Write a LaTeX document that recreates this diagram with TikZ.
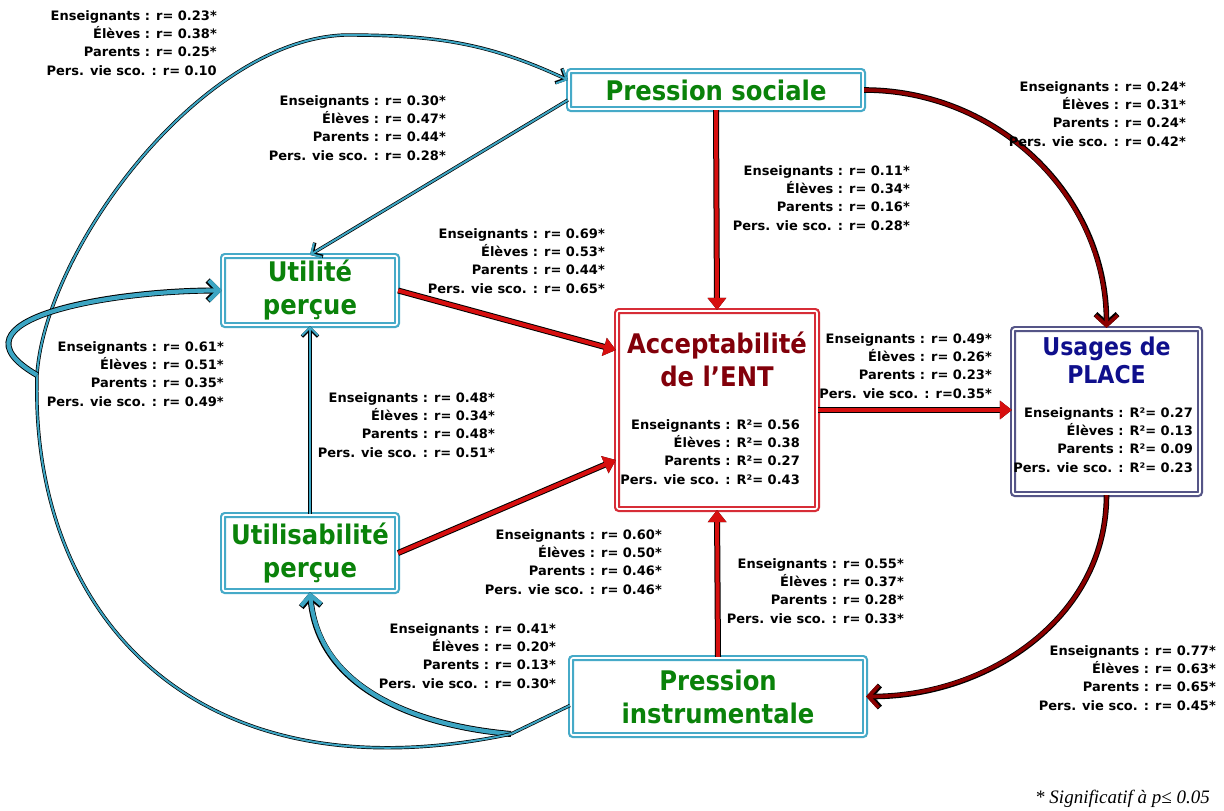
\documentclass[tikz,border=0pt]{standalone}
\usepackage{fontspec}
\setmainfont{DejaVu Sans}
\newfontfamily\titelfont{DejaVu Sans Condensed}
\newfontfamily\fussfont{Liberation Serif}
\usetikzlibrary{arrows.meta}

\begin{document}
\begin{tikzpicture}[x=1pt,y=-1pt]

    % Farben
    \definecolor{kastenblau}{RGB}{70,170,200}
    \definecolor{titelgruen}{RGB}{10,130,10}
    \definecolor{kastenrot}{RGB}{215,45,55}
    \definecolor{titelrot}{RGB}{130,0,10}
    \definecolor{kastenlila}{RGB}{85,85,135}
    \definecolor{titelblau}{RGB}{15,15,140}
    \definecolor{pfeilrot}{RGB}{215,15,15}
    \definecolor{bogenrot}{RGB}{140,0,0}
    \definecolor{pfeilblau}{RGB}{60,165,195}

    % Stile
    \tikzset{
        kasten/.style={double=white, double distance=1.6pt, line width=2.2pt,
            rounded corners=2pt, fill=white, inner sep=0pt, align=center},
        titel/.style={font=\titelfont\bfseries\fontsize{27}{33}\selectfont},
        lab/.style={font=\bfseries\fontsize{13}{18.4}\selectfont, align=right,
            inner sep=0pt, anchor=north east},
        rotpfeil/.style={draw=pfeilrot, line width=4pt,
            -{Triangle[length=12pt,width=18pt]},
            preaction={draw=black, line width=6pt, -{Triangle[length=12pt,width=18pt]}}},
        rotbogen/.style={draw=bogenrot, line width=3.6pt,
            -{Straight Barb[length=10pt,width=22pt]},
            preaction={draw=black, line width=5.6pt, -{Straight Barb[length=10pt,width=22pt]}}},
        blaupfeil/.style={draw=pfeilblau, line width=2pt,
            -{Straight Barb[length=8pt,width=16pt]},
            preaction={draw=black, line width=3.4pt, -{Straight Barb[length=8pt,width=16pt]}}},
        blaudick/.style={draw=pfeilblau, line width=4.2pt,
            -{Straight Barb[length=10pt,width=20pt]},
            preaction={draw=black, line width=6pt, -{Straight Barb[length=10pt,width=20pt]}}},
        blaulinie/.style={draw=pfeilblau, line width=2pt,
            preaction={draw=black, line width=3.4pt}}
    }

    % Rahmen
    \useasboundingbox (0,0) rectangle (1224,811);
    \fill[white] (0,0) rectangle (1224,811);

    % Kästen
    \node[kasten, draw=kastenblau, minimum width=294pt, minimum height=38pt,
        titel, text=titelgruen] (ps) at (716,90) {Pression sociale};
    \node[kasten, draw=kastenblau, minimum width=174pt, minimum height=69pt,
        titel, text=titelgruen] (util) at (310,290.5) {Utilité\\perçue};
    \node[kasten, draw=kastenblau, minimum width=174pt, minimum height=76pt,
        titel, text=titelgruen] (utis) at (310,553) {Utilisabilité\\perçue};
    \node[kasten, draw=kastenblau, minimum width=294pt, minimum height=77pt,
        titel, text=titelgruen] (pi) at (718,696.5) {Pression\\instrumentale};
    \node[kasten, draw=kastenrot, minimum width=200pt, minimum height=198pt]
        (acc) at (717,410) {};
    \node[kasten, draw=kastenlila, minimum width=187pt, minimum height=165pt]
        (us) at (1106.5,411.5) {};

    % Titel in den großen Kästen
    \node[titel, text=titelrot, align=center] (acc-titel) at (717,359)
        {Acceptabilité\\de l’ENT};
    \node[font=\titelfont\bfseries\fontsize{24.5}{28}\selectfont, text=titelblau, align=center]
        (us-titel) at (1106.5,360) {Usages de\\PLACE};
    \node[lab] (acc-r2) at (800,419)
        {Enseignants : R²= 0.56\\Élèves : R²= 0.38\\Parents : R²= 0.27\\Pers. vie sco. : R²= 0.43};
    \node[lab] (us-r2) at (1193,407)
        {Enseignants : R²= 0.27\\Élèves : R²= 0.13\\Parents : R²= 0.09\\Pers. vie sco. : R²= 0.23};

    % Rote Pfeile
    \draw[rotpfeil] (ps.south) -- (acc.north);
    \draw[rotpfeil] (util.east) -- ([yshift=60pt]acc.west);
    \draw[rotpfeil] (utis.east) -- ([yshift=-50pt]acc.west);
    \draw[rotpfeil] (pi.north) -- (acc.south);
    \draw[rotpfeil] (acc.east) -- (acc.east -| us.west);
    \draw[rotbogen] (ps.east) to[out=0,in=90] (us.north);
    \draw[rotbogen] (us.south) to[out=-90,in=0] (pi.east);

    % Blaue Pfeile
    \coordinate (J) at (511,734);
    \coordinate (K) at (37,375);
    \draw[blaupfeil] ([yshift=-10pt]ps.west) -- (util.north);
    \draw[blaupfeil] (utis.north) -- (util.south);
    \draw[blaulinie] ([yshift=-9pt]pi.west) -- (J);
    \draw[blaudick] (J) to[out=175,in=-85] (utis.south);
    \draw[blaupfeil] (J) .. controls (200,800) and (30,620) .. (K)
        .. controls (45,250) and (200,40) .. (345,35)
        to[out=0,in=155] ([yshift=10pt]ps.west);
    \draw[blaudick] (K) to[out=150,in=180,looseness=1.4] (util.west);

    % Korrelationen
    \newcommand{\korr}[7]{%
        \node[lab] (#1) at (#2,#3)
            {Enseignants : #4\\Élèves : #5\\Parents : #6\\Pers. vie sco. : #7};
    }
    \korr{k-pi-ps}{217}{10}{r= 0.23*}{r= 0.38*}{r= 0.25*}{r= 0.10}
    \korr{k-ps-util}{446}{95}{r= 0.30*}{r= 0.47*}{r= 0.44*}{r= 0.28*}
    \korr{k-ps-us}{1186}{81}{r= 0.24*}{r= 0.31*}{r= 0.24*}{r= 0.42*}
    \korr{k-ps-acc}{910}{165}{r= 0.11*}{r= 0.34*}{r= 0.16*}{r= 0.28*}
    \korr{k-util-acc}{605}{228}{r= 0.69*}{r= 0.53*}{r= 0.44*}{r= 0.65*}
    \korr{k-pi-util}{224}{341}{r= 0.61*}{r= 0.51*}{r= 0.35*}{r= 0.49*}
    \korr{k-utis-util}{495}{392}{r= 0.48*}{r= 0.34*}{r= 0.48*}{r= 0.51*}
    \korr{k-acc-us}{992}{333}{r= 0.49*}{r= 0.26*}{r= 0.23*}{r=0.35*}
    \korr{k-utis-acc}{662}{529}{r= 0.60*}{r= 0.50*}{r= 0.46*}{r= 0.46*}
    \korr{k-pi-acc}{904}{558}{r= 0.55*}{r= 0.37*}{r= 0.28*}{r= 0.33*}
    \korr{k-pi-utis}{556}{623}{r= 0.41*}{r= 0.20*}{r= 0.13*}{r= 0.30*}
    \korr{k-us-pi}{1216}{645}{r= 0.77*}{r= 0.63*}{r= 0.65*}{r= 0.45*}

    % Fußnote
    \node[font=\fussfont\itshape\fontsize{19}{22}\selectfont, anchor=base east,
        inner sep=0pt] (fuss) at (1210,803) {* Significatif à p≤ 0.05};

\end{tikzpicture}
\end{document}
